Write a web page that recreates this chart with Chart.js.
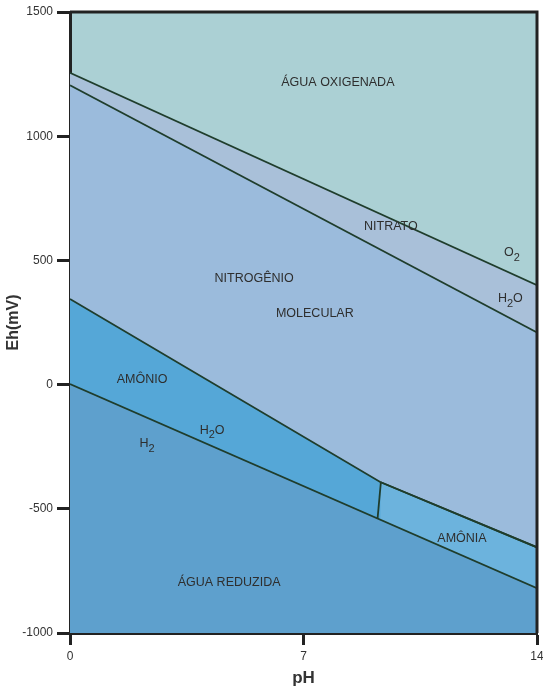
<!DOCTYPE html>
<html lang="pt">
<head>
  <meta charset="UTF-8">
  <title>Diagrama Eh-pH do nitrogênio</title>
  <script src="https://cdn.jsdelivr.net/npm/chart.js"></script>
  <style>
    body { margin: 0; background: #fff; }
    .chart-container { width: 543px; height: 693px; }
  </style>
</head>
<body>
  <div class="chart-container">
    <canvas id="ehChart"></canvas>
  </div>

  <script>
    // Boundary lines (pH, Eh in mV)
    const fullPh = [0, 14];
    const o2Eh = [1255, 400];          // O2 / H2O
    const nitrateEh = [1205, 210];     // nitrato / N2
    const ammoniumPh = [0, 9.3, 14];
    const ammoniumEh = [345, -392, -655]; // N2 / amônio-amônia
    const ammoniaPh = [9.3, 14];
    const ammoniaEh = [-392, -655];
    const h2Eh = [2, -820];            // H2O / H2
    const pkaPh = [9.32, 9.22];        // amônio / amônia
    const pkaEh = [-392, -540];

    const xTicks = [0, 7, 14];
    const yTicks = [-1000, -500, 0, 500, 1000, 1500];

    const toPoints = (xs, ys) => xs.map((x, i) => ({ x: x, y: ys[i] }));

    // region labels: text parts [string, isSubscript]
    const regionLabels = [
      { parts: [['ÁGUA OXIGENADA', 0]], ph: 8.03, eh: 1218 },
      { parts: [['NITRATO', 0]], ph: 9.62, eh: 638 },
      { parts: [['O', 0], ['2', 1]], ph: 13.25, eh: 530 },
      { parts: [['H', 0], ['2', 1], ['O', 0]], ph: 13.2, eh: 345 },
      { parts: [['NITROGÊNIO', 0]], ph: 5.52, eh: 425 },
      { parts: [['MOLECULAR', 0]], ph: 7.34, eh: 288 },
      { parts: [['AMÔNIO', 0]], ph: 2.16, eh: 19 },
      { parts: [['H', 0], ['2', 1], ['O', 0]], ph: 4.26, eh: -183 },
      { parts: [['H', 0], ['2', 1]], ph: 2.31, eh: -239 },
      { parts: [['AMÔNIA', 0]], ph: 11.75, eh: -618 },
      { parts: [['ÁGUA REDUZIDA', 0]], ph: 4.77, eh: -795 }
    ];

    const lineColor = '#1f3d2c';

    function boundary(xs, ys, fillColor) {
      return {
        data: toPoints(xs, ys),
        showLine: true,
        borderColor: lineColor,
        borderWidth: 1.8,
        pointRadius: 0,
        fill: fillColor ? 'start' : false,
        backgroundColor: fillColor || 'transparent'
      };
    }

    // background of the top region (água oxigenada)
    const areaBackground = {
      id: 'areaBackground',
      beforeDraw(chart) {
        const { ctx, chartArea: a } = chart;
        ctx.save();
        ctx.fillStyle = '#abd0d4';
        ctx.fillRect(a.left, a.top, a.right - a.left, a.bottom - a.top);
        ctx.restore();
      }
    };

    // frame round the plot and the region names
    const frameAndLabels = {
      id: 'frameAndLabels',
      afterDraw(chart) {
        const { ctx, chartArea: a, scales } = chart;
        ctx.save();
        ctx.strokeStyle = '#222';
        ctx.lineWidth = 3;
        ctx.beginPath();
        ctx.moveTo(a.left, a.top);
        ctx.lineTo(a.right, a.top);
        ctx.lineTo(a.right, a.bottom);
        ctx.stroke();

        ctx.fillStyle = '#2e2e2e';
        ctx.textBaseline = 'middle';
        regionLabels.forEach(lbl => {
          const big = '12.5px "Liberation Sans", Arial, sans-serif';
          const small = '11px "Liberation Sans", Arial, sans-serif';
          let width = 0;
          lbl.parts.forEach(p => {
            ctx.font = p[1] ? small : big;
            width += ctx.measureText(p[0]).width;
          });
          let x = scales.x.getPixelForValue(lbl.ph) - width / 2;
          const y = scales.y.getPixelForValue(lbl.eh);
          lbl.parts.forEach(p => {
            ctx.font = p[1] ? small : big;
            ctx.textAlign = 'left';
            ctx.fillText(p[0], x, p[1] ? y + 5 : y);
            x += ctx.measureText(p[0]).width;
          });
        });
        ctx.restore();
      }
    };

    const ctx = document.getElementById('ehChart').getContext('2d');
    new Chart(ctx, {
      type: 'scatter',
      data: {
        datasets: [
          boundary(fullPh, h2Eh, '#5ea0cd'),
          boundary(ammoniaPh, ammoniaEh, '#6cb3dd'),
          boundary(ammoniumPh, ammoniumEh, '#55a7d7'),
          boundary(fullPh, nitrateEh, '#9bbbdc'),
          boundary(fullPh, o2Eh, '#a9c0d9'),
          boundary(pkaPh, pkaEh, null)
        ]
      },
      options: {
        responsive: true,
        maintainAspectRatio: false,
        animation: false,
        layout: { padding: { top: 12, right: 6, left: 0, bottom: 0 } },
        plugins: {
          legend: { display: false },
          tooltip: { enabled: false },
          filler: { drawTime: 'beforeDatasetsDraw' }
        },
        scales: {
          x: {
            type: 'linear',
            min: 0,
            max: 14,
            afterBuildTicks: s => { s.ticks = xTicks.map(v => ({ value: v })); },
            afterFit: s => { s.height = 60; s.paddingLeft = 0; s.paddingRight = 0; },
            grid: {
              drawOnChartArea: false,
              drawTicks: true,
              tickLength: 12,
              tickWidth: 3,
              tickColor: '#222'
            },
            border: { display: true, width: 3, color: '#222' },
            ticks: {
              color: '#333',
              padding: 4,
              maxRotation: 0,
              callback: v => String(v),
              font: { family: '"Liberation Sans", Arial, sans-serif', size: 12 }
            },
            title: {
              display: true,
              text: 'pH',
              color: '#333',
              padding: { top: 2 },
              font: { family: '"Liberation Sans", Arial, sans-serif', size: 17, weight: 'bold' }
            }
          },
          y: {
            type: 'linear',
            min: -1000,
            max: 1500,
            afterBuildTicks: s => { s.ticks = yTicks.map(v => ({ value: v })); },
            afterFit: s => { s.width = 70; },
            grid: {
              drawOnChartArea: false,
              drawTicks: true,
              tickLength: 13,
              tickWidth: 3,
              tickColor: '#222'
            },
            border: { display: true, width: 3, color: '#222' },
            ticks: {
              color: '#333',
              padding: 4,
              callback: v => String(v),
              font: { family: '"Liberation Sans", Arial, sans-serif', size: 12 }
            },
            title: {
              display: true,
              text: 'Eh(mV)',
              color: '#333',
              font: { family: '"Liberation Sans", Arial, sans-serif', size: 16, weight: 'bold' }
            }
          }
        }
      },
      plugins: [areaBackground, frameAndLabels]
    });
  </script>
</body>
</html>
